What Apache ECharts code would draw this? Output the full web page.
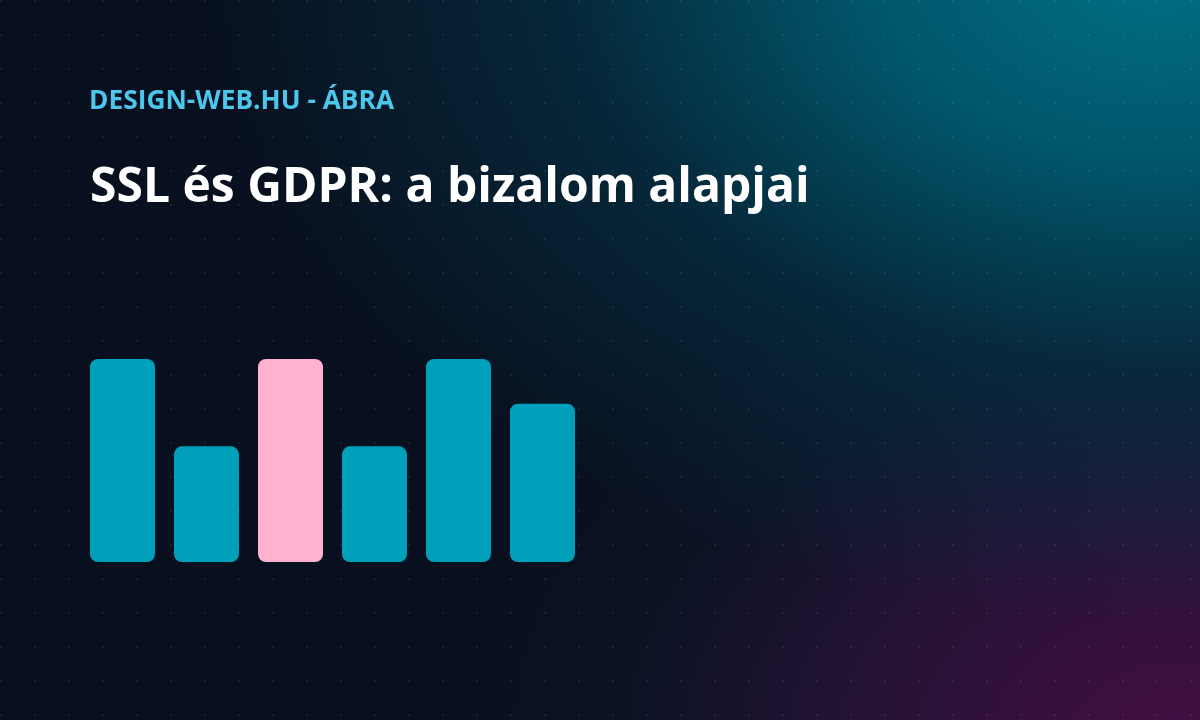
<!DOCTYPE html>
<html><head><meta charset="utf-8">
<script src="https://cdn.jsdelivr.net/npm/echarts@6/dist/echarts.min.js"></script>
<style>
html,body{margin:0;padding:0;width:1200px;height:720px;overflow:hidden;background:#08101f;}
#wrap{position:absolute;left:0;top:0;width:1200px;height:720px;
background:
 radial-gradient(circle at 1px 1px, rgba(255,255,255,0.07) 1px, transparent 1.5px) 0 0/34px 34px,
 radial-gradient(ellipse 960px 660px at 1160px -40px, rgba(0,112,134,1) 0%, rgba(0,96,118,0.85) 32%, rgba(4,62,84,0.5) 62%, rgba(8,16,31,0) 100%),
 radial-gradient(ellipse 720px 500px at 1180px 740px, rgba(68,14,66,1) 0%, rgba(48,20,62,0.7) 45%, rgba(22,22,48,0.35) 75%, rgba(8,16,31,0) 100%),
 #08101f;}
#chart{position:absolute;left:0;top:0;width:1200px;height:720px;}
</style></head>
<body><div id="wrap"></div><div id="chart"></div>
<script>
const categories = ['1','2','3','4','5','6'];
const values = [100, 57, 100, 57, 100, 78];
const highlightIndex = 2;
const kicker = 'DESIGN-WEB.HU - ÁBRA';
const headline = 'SSL és GDPR: a bizalom alapjai';

const chart = echarts.init(document.getElementById('chart'), null, {renderer:'canvas'});
chart.setOption({
  backgroundColor: 'transparent',
  animation: false,
  title: [
    {text: kicker, left: 89, top: 88.5, padding: 0, textStyle:{color:'#4cc6ea', fontFamily:'Open Sans', fontWeight:'bold', fontSize:26.3}},
    {text: headline, left: 90, top: 164, padding: 0, textStyle:{color:'#ffffff', fontFamily:'Open Sans', fontWeight:'bold', fontSize:48}}
  ],
  grid: {left: 80.5, width: 504, top: 359, height: 203, containLabel:false},
  xAxis: {type:'category', data: categories, show:false},
  yAxis: {type:'value', min:0, max:100, show:false},
  series: [{
    type:'bar', barWidth:65,
    data: values.map((v,i)=>({value:v, itemStyle:{color: i===highlightIndex ? '#ffb1d0' : '#00a0ba'}})),
    itemStyle:{borderRadius:8}
  }]
});
</script></body></html>
